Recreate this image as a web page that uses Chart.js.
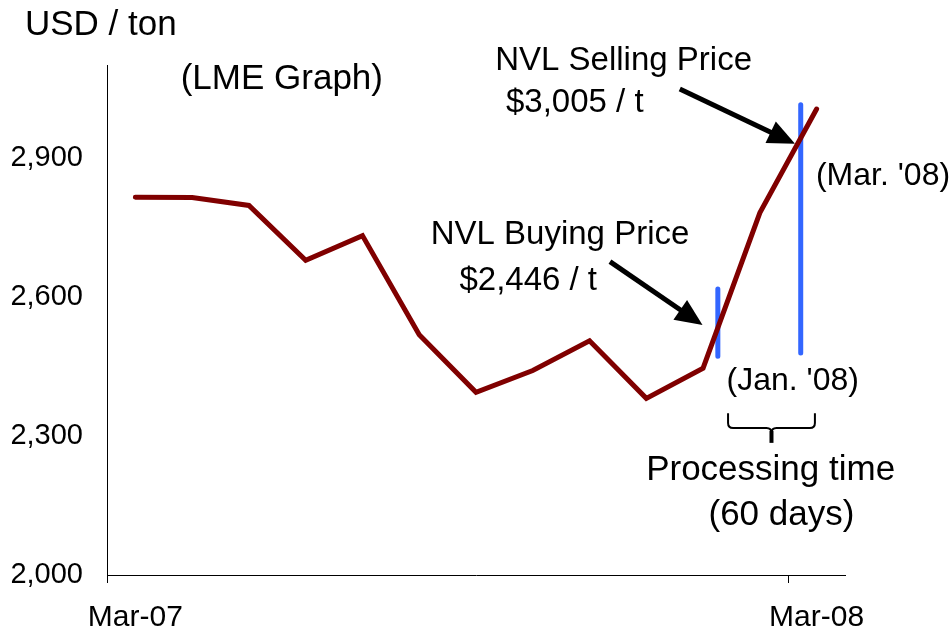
<!DOCTYPE html>
<html>
<head>
<meta charset="utf-8">
<title>LME price</title>
<script src="https://cdn.jsdelivr.net/npm/chart.js@4.4.1/dist/chart.umd.min.js"></script>
<style>
  html, body { margin: 0; padding: 0; background: #fff; }
  #wrap { position: relative; width: 952px; height: 631px; }
</style>
</head>
<body>
<div id="wrap"><canvas id="lme"></canvas></div>
<script>
// Monthly LME price, USD per ton
const months = ['Mar-07','Apr-07','May-07','Jun-07','Jul-07','Aug-07','Sep-07','Oct-07','Nov-07','Dec-07','Jan-08','Feb-08','Mar-08'];
const prices = [2815, 2814, 2797, 2679, 2732, 2518, 2394, 2441, 2505, 2381, 2446, 2781, 3005];
const yTicks = [2000, 2300, 2600, 2900];

// Buy / sell markers, x in month-index units
const markerX = [10.26, 11.72];
const markerTop = [2617, 3014];
const markerBottom = [2472, 2479];

const FONT = '"Liberation Sans", Arial, sans-serif';

// ---------- Annotations (month index / price coords) ----------
const notes = [
  {text: '(LME Graph)',       x: 2.58,  y: 3048, size: 35},
  {text: 'NVL Selling Price', x: 8.60,  y: 3089, size: 33},
  {text: '$3,005 / t',        x: 7.74,  y: 2999, size: 33},
  {text: 'NVL Buying Price',  x: 7.48,  y: 2715, size: 33},
  {text: '$2,446 / t',        x: 6.92,  y: 2615, size: 33},
  {text: "(Mar. '08)",        x: 13.17, y: 2841, size: 32},
  {text: "(Jan. '08)",        x: 11.58, y: 2399, size: 32},
  {text: 'Processing time',   x: 11.19, y: 2205, size: 35},
  {text: '(60 days)',         x: 11.38, y: 2108, size: 35}
];
const arrows = [
  {from: [9.59, 3048], to: [11.62, 2930]},
  {from: [8.36, 2676], to: [9.99, 2539]}
];
const brace = {left: 10.44, right: 11.97, top: 2349, mid: 2317, bottom: 2285};

const annotate = {
  id: 'annotate',
  afterDatasetsDraw(chart){
    const ctx = chart.ctx;
    const xs = chart.scales.xm, ys = chart.scales.y;
    const px = v => xs.getPixelForValue(v);
    const py = v => ys.getPixelForValue(v);
    const area = chart.chartArea;

    ctx.save();
    ctx.fillStyle = '#000';
    ctx.strokeStyle = '#000';

    // axis unit above the y axis
    ctx.font = `35px ${FONT}`;
    ctx.textAlign = 'left';
    ctx.textBaseline = 'alphabetic';
    ctx.fillText('USD / ton', area.left - 82, area.top - 30);

    ctx.textAlign = 'center';
    notes.forEach(n => {
      ctx.font = `${n.size}px ${FONT}`;
      ctx.fillText(n.text, px(n.x), py(n.y));
    });

    // arrows
    arrows.forEach(a => {
      const x1 = px(a.from[0]), y1 = py(a.from[1]);
      const x2 = px(a.to[0]), y2 = py(a.to[1]);
      const ang = Math.atan2(y2 - y1, x2 - x1);
      const len = 27, hw = 12;
      const bx = x2 - len * Math.cos(ang), by = y2 - len * Math.sin(ang);
      ctx.lineWidth = 5;
      ctx.lineCap = 'butt';
      ctx.beginPath();
      ctx.moveTo(x1, y1);
      ctx.lineTo(bx + 3 * Math.cos(ang), by + 3 * Math.sin(ang));
      ctx.stroke();
      ctx.beginPath();
      ctx.moveTo(x2, y2);
      ctx.lineTo(bx + hw * Math.sin(ang), by - hw * Math.cos(ang));
      ctx.lineTo(bx - hw * Math.sin(ang), by + hw * Math.cos(ang));
      ctx.closePath();
      ctx.fill();
    });

    // curly brace under the markers
    const L = px(brace.left), R = px(brace.right), C = (L + R) / 2;
    const T = py(brace.top), M = py(brace.mid), B = py(brace.bottom), r = 5;
    ctx.lineWidth = 2;
    ctx.beginPath();
    ctx.moveTo(L, T); ctx.lineTo(L, M - r); ctx.quadraticCurveTo(L, M, L + r, M);
    ctx.lineTo(C - r, M); ctx.quadraticCurveTo(C, M, C, M + r);
    ctx.moveTo(R, T); ctx.lineTo(R, M - r); ctx.quadraticCurveTo(R, M, R - r, M);
    ctx.lineTo(C + r, M); ctx.quadraticCurveTo(C, M, C, M + r);
    ctx.stroke();
    ctx.lineWidth = 4;
    ctx.beginPath(); ctx.moveTo(C, M + 3); ctx.lineTo(C, B); ctx.stroke();

    ctx.restore();
  }
};

Chart.defaults.font.family = FONT;
Chart.defaults.color = '#000';

const markerSets = markerX.map((x, i) => ({
  label: i === 0 ? 'Buy' : 'Sell',
  xAxisID: 'xm',
  data: [{x: x, y: markerTop[i]}, {x: x, y: markerBottom[i]}],
  borderColor: '#3366ff',
  borderWidth: 5,
  borderCapStyle: 'round',
  pointRadius: 0
}));

new Chart(document.getElementById('lme').getContext('2d'), {
  type: 'line',
  data: {
    labels: months,
    datasets: [
      {
        label: 'LME',
        data: prices,
        borderColor: '#800000',
        borderWidth: 5,
        borderCapStyle: 'round',
        borderJoinStyle: 'miter',
        pointRadius: 0,
        tension: 0
      },
      ...markerSets
    ]
  },
  options: {
    responsive: true,
    maintainAspectRatio: false,
    animation: false,
    layout: {padding: {top: 65, right: 107, left: 0, bottom: 0}},
    plugins: {legend: {display: false}, tooltip: {enabled: false}},
    scales: {
      x: {
        type: 'category',
        offset: true,
        grid: {
          display: true, offset: true, drawOnChartArea: false, drawTicks: true, tickLength: 8,
          lineWidth: 1,
          color: c => (c.index % 12 === 0 ? '#000' : 'rgba(0,0,0,0)')
        },
        border: {display: true, color: '#000', width: 1},
        ticks: {
          autoSkip: false, maxRotation: 0, padding: 17, font: {size: 30},
          callback: (v, i) => (i % 12 === 0 ? months[i] : '')
        },
        afterFit: s => { s.height = 56; }
      },
      xm: {type: 'linear', display: false, min: -0.5, max: months.length - 0.5},
      y: {
        min: 2000, max: 3100,
        grid: {display: false},
        border: {display: true, color: '#000', width: 1},
        afterBuildTicks: s => { s.ticks = yTicks.map(v => ({value: v})); },
        ticks: {padding: 16, font: {size: 29}, callback: v => v.toLocaleString('en-US')},
        afterFit: s => { s.width = 107; }
      }
    }
  },
  plugins: [annotate]
});
</script>
</body>
</html>
